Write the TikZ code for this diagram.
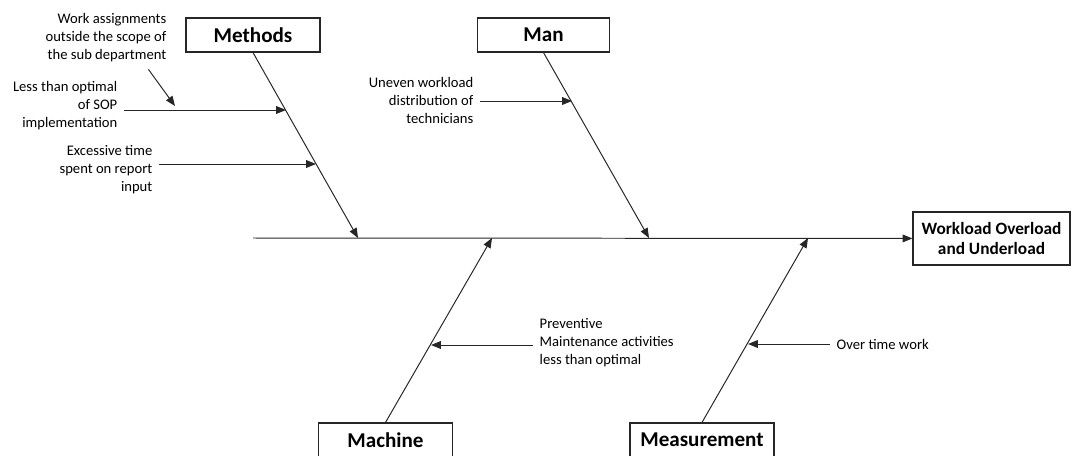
\documentclass[tikz,border=0pt]{standalone}
\usepackage{fontspec}
\setmainfont{Carlito}
\usetikzlibrary{arrows.meta,positioning}
\begin{document}
\begin{tikzpicture}[x=0.025cm,y=-0.025cm]
\tikzset{cat/.style={draw=black!85, line width=0.8pt, font=\fontsize{15}{17}\selectfont\bfseries, minimum height=0.85cm, inner sep=2pt}}
\tikzset{cause/.style={font=\fontsize{10.4}{12.8}\selectfont, inner sep=1pt}}
\tikzset{bone/.style={draw=black!85, line width=0.7pt, -{Triangle[length=7pt,width=5.5pt]}}}
\tikzset{twig/.style={bone, shorten <=3.5pt}}
\useasboundingbox (0,0) rectangle (1072,455);

% categories and effect
\node [cat, minimum width=3.35cm] (Methods) at (253,35) {Methods};
\node [cat, minimum width=3.28cm] (Man) at (543.5,35) {Man};
\node [cat, minimum width=3.33cm] (Machine) at (385.5,440) {Machine};
\node [cat, minimum width=3.6cm] (Measurement) at (702,440) {Measurement};
\node [cat, minimum width=3.925cm, minimum height=1.325cm, align=center,
  font=\fontsize{12.3}{14}\selectfont\bfseries] (Effect) at (991.5,238.5) {Workload Overload\\and Underload};

% causes
\node [cause, anchor=east, align=right] (c1) at (168,38) {Work assignments\\outside the scope of\\the sub department};
\node [cause, anchor=east, align=right] (c2) at (119,106) {Less than optimal\\of SOP\\implementation};
\node [cause, anchor=east, align=right] (c3) at (154,170) {Excessive time\\spent on report\\input};
\node [cause, anchor=east, align=right] (c4) at (475,100) {Uneven workload\\distribution of\\technicians};
\node [cause, anchor=west, align=left] (c5) at (538,343) {Preventive\\Maintenance activities\\less than optimal};
\node [cause, anchor=west, align=left] (c6) at (835,344) {Over time work};

% points on the spine and the bones
\coordinate (tail) at (253,238);
\coordinate (m0) at (358,238);
\coordinate (n0) at (649,238);
\coordinate (k0) at (492,238);
\coordinate (r0) at (808,238);
\coordinate (w1) at (175,106);
\coordinate (b2) at (286,110);
\coordinate (b3) at (316,164);
\coordinate (b4) at (572,101);
\coordinate (b5) at (431,345);
\coordinate (b6) at (748,344);

\begin{scope}[every edge/.style={bone}]
\path (tail) edge (Effect);
\path (Methods.south) edge (m0);
\path (Man.south) edge (n0);
\path (Machine.north) edge (k0);
\path (Measurement.north) edge (r0);
\end{scope}
\begin{scope}[every edge/.style={twig}]
\path ([xshift=-16pt,yshift=-1pt]c1.south east) edge (w1);
\path (c2.east |- b2) edge (b2);
\path (c3.east |- b3) edge (b3);
\path (c4.east |- b4) edge (b4);
\path (c5.west |- b5) edge (b5);
\path (c6.west |- b6) edge (b6);
\end{scope}
\end{tikzpicture}
\end{document}
